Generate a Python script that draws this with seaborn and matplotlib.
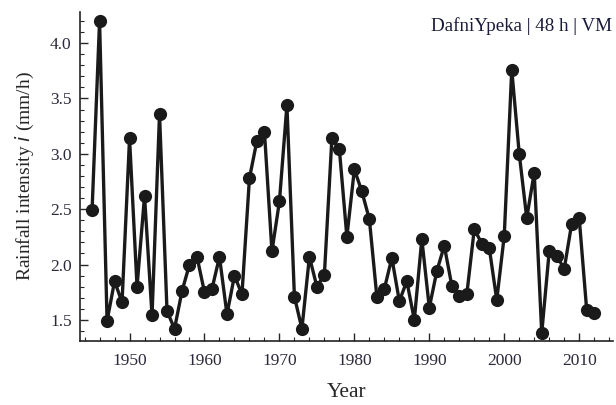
import matplotlib
matplotlib.use('Agg')
import matplotlib.pyplot as plt
from matplotlib.ticker import MultipleLocator
import seaborn as sns
import pandas as pd

# annual maximum rainfall intensity
years = list(range(1945, 2013))
intensity = [2.49, 4.20, 1.49, 1.85, 1.66, 3.14, 1.80, 2.62, 1.54, 3.36,
             1.58, 1.42, 1.76, 2.00, 2.07, 1.75, 1.78, 2.07, 1.55, 1.90,
             1.73, 2.78, 3.12, 3.20, 2.12, 2.57, 3.44, 1.71, 1.42, 2.07,
             1.80, 1.91, 3.14, 3.04, 2.25, 2.86, 2.66, 2.41, 1.71, 1.78,
             2.06, 1.67, 1.85, 1.50, 2.23, 1.61, 1.94, 2.17, 1.81, 1.72,
             1.73, 2.32, 2.19, 2.15, 1.68, 2.26, 3.76, 3.00, 2.42, 2.83,
             1.38, 2.12, 2.08, 1.96, 2.37, 2.42, 1.59, 1.56]
label_text = 'DafniYpeka | 48 h | VM'

df = pd.DataFrame({'Year': years, 'Intensity': intensity})

sns.set_style('ticks')
plt.rcParams['font.family'] = ['Liberation Serif', 'DejaVu Serif']

fig = plt.figure(figsize=(6.16, 4.05), dpi=100)
ax = fig.add_axes([0.130, 0.159, 0.865, 0.811])

sns.lineplot(data=df, x='Year', y='Intensity', ax=ax, color='#1a1a1a',
             linewidth=2.4, marker='o', markersize=9.5, markeredgewidth=0)

ax.set_xlim(1943.4, 2014.5)
ax.set_ylim(1.313, 4.28)

# Mathematica-like axes: ticks pointing in, minor ticks
ax.xaxis.set_major_locator(MultipleLocator(10))
ax.xaxis.set_minor_locator(MultipleLocator(2))
ax.yaxis.set_major_locator(MultipleLocator(0.5))
ax.yaxis.set_minor_locator(MultipleLocator(0.1))
ax.tick_params(which='major', direction='in', length=6, width=1,
               labelsize=12.5, labelcolor='#2a2a3a')
ax.tick_params(axis='x', which='major', pad=9)
ax.tick_params(axis='y', which='major', pad=6)
ax.tick_params(which='minor', direction='in', length=3, width=0.8)

for s in ['top', 'right']:
    ax.spines[s].set_visible(False)
for s in ['left', 'bottom']:
    ax.spines[s].set_linewidth(1.2)
    ax.spines[s].set_color('#222222')

ax.set_xlabel('Year', fontsize=15.5, labelpad=10)
ax.set_ylabel('Rainfall intensity $\\it{i}$ (mm/h)', fontsize=14, labelpad=10)

ax.text(0.998, 0.985, label_text, transform=ax.transAxes, ha='right', va='top',
        fontsize=13.7, color='#1a1a3a')

plt.savefig('out.png', dpi=100)
